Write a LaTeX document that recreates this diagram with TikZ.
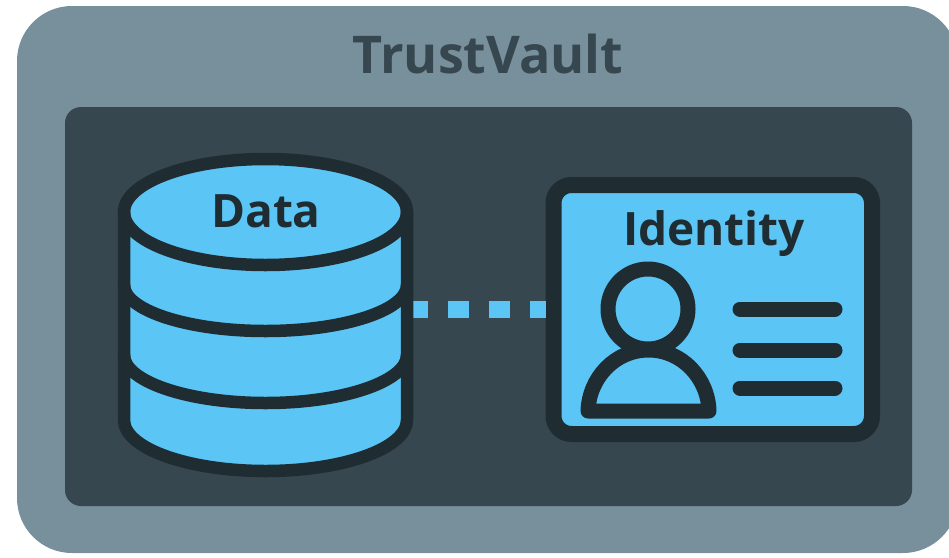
\documentclass[tikz,border=0pt]{standalone}
\usepackage{fontspec}
\setmainfont{Open Sans}
\definecolor{outerc}{HTML}{78909C}
\definecolor{innerc}{HTML}{37474F}
\definecolor{bluec}{HTML}{5BC5F5}
\definecolor{darkc}{HTML}{1F2D33}
\tikzset{
  vault/.style={fill=outerc,draw=none,rounded corners=55pt},
  panel/.style={fill=innerc,draw=none,rounded corners=16pt},
  ink/.style={draw=darkc,line width=12.5pt,line join=round,line cap=round},
  thin ink/.style={draw=darkc,line width=15pt,line join=round,line cap=round},
  cardbox/.style={draw=darkc,fill=bluec,line width=16pt,rounded corners=18pt,minimum width=318.5pt,minimum height=249pt,inner sep=0pt},
  link/.style={draw=bluec,line width=17pt,dash pattern=on 15pt off 20pt on 21pt off 20pt on 21pt off 20pt on 21pt off 20pt},
  lbl/.style={font=\bfseries\fontsize{#1}{#1}\selectfont,text=darkc,inner sep=0pt,anchor=base}
}
\begin{document}
\begin{tikzpicture}[x=1pt,y=-1pt]
\useasboundingbox (0,0) rectangle (949,557);
\fill[white] (0,0) rectangle (949,557);
\begin{scope}
\clip (0,0) rectangle (949,557);
\path[vault] (17,6) rectangle (958,553);
\end{scope}
\path[panel] (65,107) rectangle (912,506);
\node[lbl=52pt,text=innerc] (title) at (488,73) {TrustVault};
% identity card
\node[cardbox] (card) at (712.75,309.5) {};
% database position holder
\node[inner sep=0pt,outer sep=0pt,minimum width=295pt,minimum height=324pt] (db) at (265.5,309.5) {};
\draw[link] (db.east) -- (card.west);
% cylinder
\path[fill=bluec] (124,212) .. controls (124,183) and (187,159) .. (265.5,159)
  .. controls (344,159) and (407,183) .. (407,212) -- (407,420)
  .. controls (407,448) and (344,471) .. (265.5,471)
  .. controls (187,471) and (124,448) .. (124,420) -- cycle;
\draw[ink] (124,212) .. controls (124,183) and (187,159) .. (265.5,159)
  .. controls (344,159) and (407,183) .. (407,212) -- (407,420)
  .. controls (407,448) and (344,471) .. (265.5,471)
  .. controls (187,471) and (124,448) .. (124,420) -- cycle;
\draw[ink] (124,212) .. controls (124,241) and (187,265) .. (265.5,265)
  .. controls (344,265) and (407,241) .. (407,212);
\draw[ink] (124,285) .. controls (124,310) and (187,331) .. (265.5,331)
  .. controls (344,331) and (407,310) .. (407,285);
\draw[ink] (124,355) .. controls (124,381) and (187,403) .. (265.5,403)
  .. controls (344,403) and (407,381) .. (407,355);
\node[lbl=46pt] (data) at (266,227) {Data};
\node[lbl=46pt] (identity) at (714,245) {Identity};
% person
\draw[thin ink] (648,309) circle (40);
\draw[thin ink] (588,411) .. controls (589,378) and (615,350) .. (648.5,350)
  .. controls (682,350) and (708,378) .. (709,411) -- cycle;
\draw[thin ink] (740,309) -- (835,309);
\draw[thin ink] (740,350) -- (835,350);
\draw[thin ink] (740,388) -- (835,388);
\end{tikzpicture}
\end{document}
